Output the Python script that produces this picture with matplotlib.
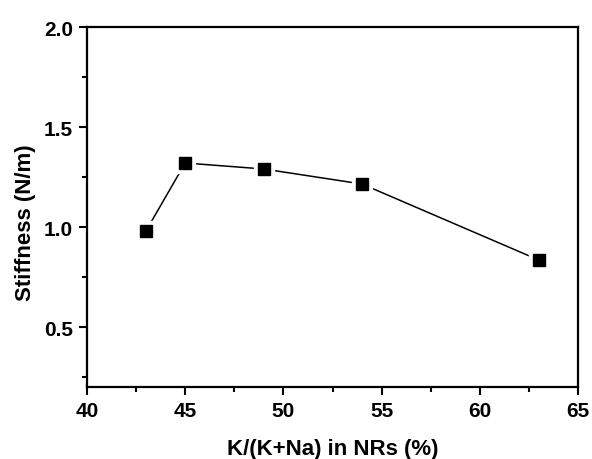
import matplotlib
matplotlib.use("Agg")
import matplotlib.pyplot as plt
from matplotlib.ticker import MultipleLocator

# data
ratio = [43, 45, 49, 54, 63]
stiffness = [0.98, 1.32, 1.29, 1.215, 0.835]

plt.rcParams["font.family"] = ["Liberation Sans", "DejaVu Sans"]
plt.rcParams["font.weight"] = "bold"

fig = plt.figure(figsize=(5.92, 4.6), dpi=100)
ax = fig.add_axes([87 / 592, 1 - 388 / 460, (578 - 87) / 592, (388 - 28) / 460])

ax.plot(ratio, stiffness, color="black", lw=1.1, zorder=1)
# white halo so the line stops short of the markers
ax.plot(ratio, stiffness, ls="none", marker="s", ms=14.5, color="white", zorder=2)
ax.plot(ratio, stiffness, ls="none", marker="s", ms=9, color="black", zorder=3)

ax.set_xlim(40, 65)
ax.set_ylim(0.2, 2.0)
ax.xaxis.set_major_locator(MultipleLocator(5))
ax.xaxis.set_minor_locator(MultipleLocator(2.5))
ax.yaxis.set_major_locator(MultipleLocator(0.5))
ax.yaxis.set_minor_locator(MultipleLocator(0.25))

for s in ax.spines.values():
    s.set_linewidth(1.6)
ax.tick_params(which="major", direction="out", length=6, width=1.5, labelsize=15, pad=4)
ax.tick_params(which="minor", direction="out", length=3.5, width=1.5)
ax.tick_params(top=False, right=False)

ax.set_xlabel("K/(K+Na) in NRs (%)", fontsize=16, fontweight="bold", labelpad=13)
ax.set_ylabel("Stiffness (N/m)", fontsize=16, fontweight="bold", labelpad=5.5)
ax.yaxis.label.set_y(0.458)  # label sits a bit below the axes centre

fig.savefig("out.png", dpi=100)
